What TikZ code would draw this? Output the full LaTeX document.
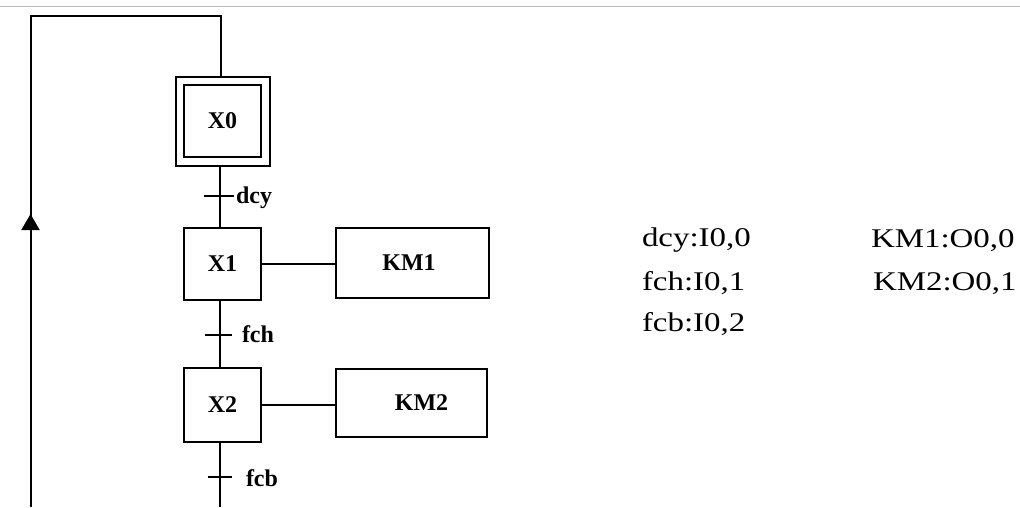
\documentclass[tikz,border=0pt]{standalone}
\usepackage{fontspec}
\setmainfont{Liberation Serif}
\newfontfamily\wideserif[FakeStretch=1.22]{Liberation Serif}
\usetikzlibrary{arrows.meta}
\begin{document}
\begin{tikzpicture}[x=1pt,y=-1pt,
  line width=2pt,
  boldlabel/.style={font=\fontsize{24}{26}\selectfont\bfseries},
  stepbox/.style={draw,rectangle,minimum width=77pt,minimum height=72pt,inner sep=0pt,boldlabel},
  actbox/.style={draw,rectangle,minimum width=153pt,minimum height=70pt,inner sep=0pt,boldlabel},
  translabel/.style={anchor=base west,inner sep=0pt,boldlabel},
  iolabel/.style={anchor=base west,inner sep=0pt,font=\wideserif\fontsize{27}{29}\selectfont},
  tick/.style={line width=1.8pt}]
  \useasboundingbox (0,0) rectangle (1020,507);
  % thin grey rule along the top
  \draw[line width=1pt,color=black!27] (0,6) -- (1020,6);

  % steps
  \node[stepbox] (X0) at (222.5,121) {X0};
  \node[draw,rectangle,minimum width=94pt,minimum height=89pt,inner sep=0pt] (X0o) at (222.5,121.5) {};
  \node[stepbox] (X1) at (222.5,264) {X1};
  \node[stepbox,minimum height=74pt] (X2) at (222.5,405) {X2};

  % actions
  \node[actbox] (KM1) at (412.5,262.5) {KM1\hspace*{7pt}};
  \node[actbox,minimum width=151pt,minimum height=68pt] (KM2) at (411.5,403) {\hspace*{20pt}KM2};

  % transition points on the step column
  \coordinate (t0) at (219.5,196);
  \coordinate (t1) at (219.5,335);
  \coordinate (t2) at (219.5,477);

  % links
  \draw (X0o.south -| t0) -- (X1.north -| t0);
  \draw (X1.south -| t1) -- (X2.north -| t1);
  \draw (X1.east) -- (X1.east -| KM1.west);
  \draw (X2.east) -- (X2.east -| KM2.west);

  % transitions
  \draw[tick] ([xshift=-16pt]t0) -- ([xshift=14pt]t0);
  \draw[tick] ([xshift=-15pt]t1) -- ([xshift=12pt]t1);
  \draw[tick] ([xshift=-12pt]t2) -- ([xshift=12pt]t2);
  \node[translabel] (ldcy) at (235,203) {dcy};
  \node[translabel] (lfch) at (241,342) {fch};
  \node[translabel] (lfcb) at (245,486) {fcb};

  % return loop
  \coordinate (bot) at (219.5,507);
  \coordinate (botL) at (30.5,507);
  \coordinate (topL) at (30.5,16);
  \coordinate (topR) at (220.5,16);
  \coordinate (arr) at (30.5,214);
  \draw (X2.south -| bot) -- (bot);
  \draw (botL) -- (topL) -- (topR) -- (X0o.north -| topR);
  \draw[-{Triangle[width=18pt,length=16pt]}] (botL) -- (arr);

  % input / output assignment
  \node[iolabel] (io1) at (641,246) {dcy:I0,0};
  \node[iolabel] (io2) at (641,290) {fch:I0,1};
  \node[iolabel] (io3) at (641,331) {fcb:I0,2};
  \node[iolabel] (io4) at (870,247) {KM1:O0,0};
  \node[iolabel] (io5) at (872,290) {KM2:O0,1};
\end{tikzpicture}
\end{document}
